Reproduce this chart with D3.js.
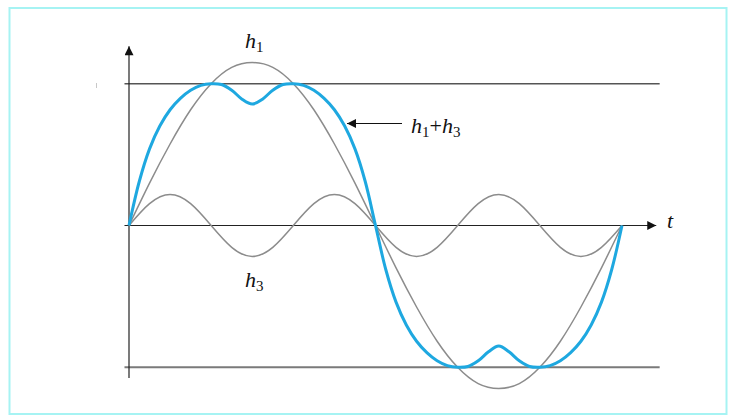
<!DOCTYPE html>
<html>
<head>
<meta charset="utf-8">
<script src="https://cdn.jsdelivr.net/npm/d3@7"></script>
<style>
  body { margin: 0; background: #fff; }
  svg { display: block; }
  text { font-family: "Liberation Serif", "DejaVu Serif", serif; fill: #111; }
</style>
</head>
<body>
<script>
var width = 729;
var height = 416;

// phase angle in degrees (one full period of h1)
var phase = [0, 15, 30, 45, 60, 75, 90, 105, 120, 135, 150, 165, 180,
             195, 210, 225, 240, 255, 270, 285, 300, 315, 330, 345, 360];

// values, h1 amplitude = 1
var h1 = [0, 0.26, 0.5, 0.71, 0.87, 0.97, 1, 0.97, 0.87, 0.71, 0.5, 0.26, 0,
          -0.26, -0.5, -0.71, -0.87, -0.97, -1, -0.97, -0.87, -0.71, -0.5, -0.26, 0];
var h3 = [0, 0.134, 0.19, 0.134, 0, -0.134, -0.19, -0.134, 0, 0.134, 0.19, 0.134, 0,
          -0.134, -0.19, -0.134, 0, 0.134, 0.19, 0.134, 0, -0.134, -0.19, -0.134, 0];

// the sum curve is read more finely (every 7.5 degrees)
var phaseFine = [0, 7.5, 15, 22.5, 30, 37.5, 45, 52.5, 60, 67.5, 75, 82.5, 90,
                 97.5, 105, 112.5, 120, 127.5, 135, 142.5, 150, 157.5, 165, 172.5, 180,
                 187.5, 195, 202.5, 210, 217.5, 225, 232.5, 240, 247.5, 255, 262.5, 270,
                 277.5, 285, 292.5, 300, 307.5, 315, 322.5, 330, 337.5, 345, 352.5, 360];
var h1h3 = [0, 0.27, 0.47, 0.61, 0.71, 0.78, 0.83, 0.86, 0.87, 0.865, 0.83, 0.775, 0.745,
            0.775, 0.83, 0.865, 0.87, 0.86, 0.83, 0.78, 0.71, 0.61, 0.47, 0.27, 0,
            -0.27, -0.47, -0.61, -0.71, -0.78, -0.83, -0.86, -0.87, -0.865, -0.83, -0.775, -0.74,
            -0.775, -0.83, -0.865, -0.87, -0.86, -0.83, -0.78, -0.71, -0.61, -0.47, -0.27, 0];

// flat-top level lines
var levels = [0.87, -0.87];

var svg = d3.select("body").append("svg")
    .attr("width", width)
    .attr("height", height);

// frame
svg.append("rect")
    .attr("x", 9.5).attr("y", 8)
    .attr("width", 717).attr("height", 406)
    .attr("fill", "none")
    .attr("stroke", "#a6f3f3")
    .attr("stroke-width", 2);

var x = d3.scaleLinear().domain([0, 360]).range([129, 622]);
var y = d3.scaleLinear().domain([-1, 1]).range([388.5, 62.5]);

var defs = svg.append("defs");
defs.append("marker")
    .attr("id", "head")
    .attr("viewBox", "0 0 10 10")
    .attr("refX", 10).attr("refY", 5)
    .attr("markerWidth", 15).attr("markerHeight", 9)
    .attr("markerUnits", "userSpaceOnUse")
    .attr("orient", "auto")
  .append("path")
    .attr("d", "M0,0L10,5L0,10Z")
    .attr("fill", "#111");

// level lines
svg.selectAll(".level")
    .data(levels)
    .enter()
    .append("line")
        .attr("class", "level")
        .attr("x1", x(-3.3))
        .attr("x2", x(387.5))
        .attr("y1", function(d){ return y(d); })
        .attr("y2", function(d){ return y(d); })
        .attr("stroke", function(d, i){ return i == 0 ? "#555" : "#7a7a7a"; })
        .attr("stroke-width", function(d, i){ return i == 0 ? 1.4 : 2; });

// t axis
svg.append("line")
    .attr("x1", x(-3.3)).attr("x2", x(385))
    .attr("y1", y(0)).attr("y2", y(0))
    .attr("stroke", "#222")
    .attr("stroke-width", 1.2)
    .attr("marker-end", "url(#head)");

// vertical axis
svg.append("line")
    .attr("x1", x(0)).attr("x2", x(0))
    .attr("y1", y(-0.936)).attr("y2", y(1.1))
    .attr("stroke", "#222")
    .attr("stroke-width", 1.2)
    .attr("marker-end", "url(#head)");

// stray tick left of the axis
svg.append("line")
    .attr("x1", 96.5).attr("x2", 96.5)
    .attr("y1", 83).attr("y2", 88)
    .attr("stroke", "#c8c8c8");

var line = d3.line()
    .x(function(d){ return x(d[0]); })
    .y(function(d){ return y(d[1]); });

var series = [
    {xs: phase, values: h1, color: "#8c8c8c", w: 1.5, curve: d3.curveNatural},
    {xs: phase, values: h3, color: "#8c8c8c", w: 1.5, curve: d3.curveNatural},
    {xs: phaseFine, values: h1h3, color: "#1ea8e0", w: 3, curve: d3.curveCatmullRom}
];

svg.selectAll(".wave")
    .data(series)
    .enter()
    .append("path")
        .attr("class", "wave")
        .attr("d", function(s){
            return line.curve(s.curve)(s.xs.map(function(p, i){ return [p, s.values[i]]; }));
        })
        .attr("fill", "none")
        .attr("stroke", function(s){ return s.color; })
        .attr("stroke-width", function(s){ return s.w; })
        .attr("stroke-linejoin", "round");

// pointer to the sum curve
svg.append("line")
    .attr("x1", 402).attr("x2", 347)
    .attr("y1", 123.5).attr("y2", 123.5)
    .attr("stroke", "#111")
    .attr("stroke-width", 1.2)
    .attr("marker-end", "url(#head)");

function label(xp, yp, parts) {
    var t = svg.append("text").attr("x", xp).attr("y", yp).attr("font-size", 22);
    parts.forEach(function(p){
        var s = t.append("tspan").text(p.s);
        if (p.it) s.attr("font-style", "italic");
        if (p.sub) s.attr("font-size", 15).attr("dy", 4);
        if (p.up) s.attr("dy", -4);
    });
}

label(245, 48, [{s: "h", it: true}, {s: "1", sub: true}]);
label(245, 287, [{s: "h", it: true}, {s: "3", sub: true}]);
label(411, 133, [{s: "h", it: true}, {s: "1", sub: true}, {s: "+", up: true},
                 {s: "h", it: true}, {s: "3", sub: true}]);
label(667, 228, [{s: "t", it: true}]);
</script>
</body>
</html>
